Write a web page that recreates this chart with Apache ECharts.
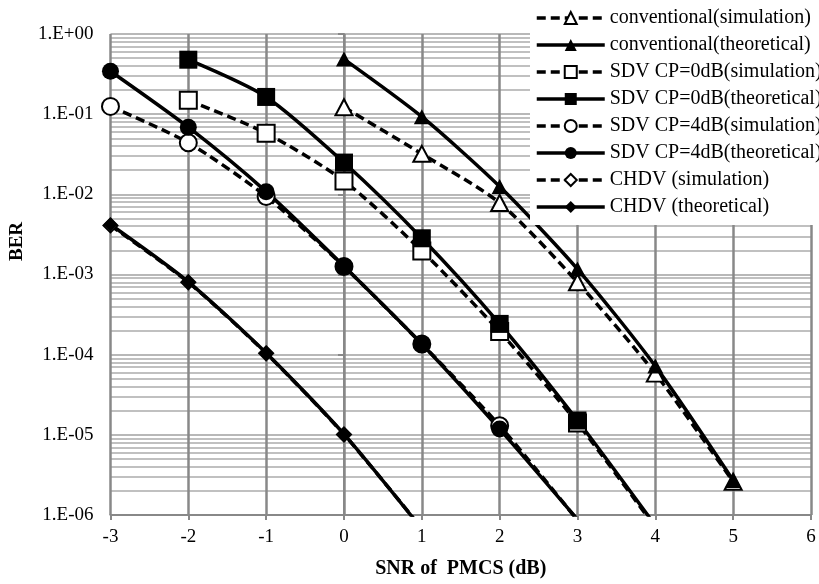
<!DOCTYPE html>
<html>
<head>
<meta charset="utf-8">
<script src="https://cdn.jsdelivr.net/npm/echarts@6/dist/echarts.min.js"></script>
<style>
html,body{margin:0;padding:0;background:#fff;}
#chart{width:819px;height:584px;}
</style>
</head>
<body>
<div id="chart"></div>
<script>
// ---- data ----
const snr = [-3, -2, -1, 0, 1, 2, 3, 4, 5];
const convSim   = [null, null, null, 0.122, 0.032, 0.0078, 8.0e-4, 5.8e-5, 2.6e-6];
const convTheo  = [null, null, null, 0.487, 0.093, 0.0125, 1.17e-3, 7.2e-5, 2.7e-6];
const sdv0Sim   = [null, 0.149, 0.058, 0.0147, 1.97e-3, 1.94e-4, 1.4e-5, 7.0e-7, null];
const sdv0Theo  = [null, 0.478, 0.164, 0.0249, 2.83e-3, 2.42e-4, 1.51e-5, 7.4e-7, null];
const sdv4Sim   = [0.125, 0.044, 9.4e-3, 1.26e-3, 1.36e-4, 1.3e-5, 8.6e-7, null, null];
const sdv4Theo  = [0.343, 0.0687, 0.0108, 1.27e-3, 1.36e-4, 1.18e-5, 8.8e-7, null, null];
const chdvSim   = [4.1e-3, 8.0e-4, 1.04e-4, 1.01e-5, 6.8e-7, null, null, null, null];
const chdvTheo  = [4.2e-3, 8.1e-4, 1.05e-4, 1.02e-5, 6.7e-7, null, null, null, null];
const seriesNames = [
  'conventional(simulation)', 'conventional(theoretical)',
  'SDV CP=0dB(simulation)', 'SDV CP=0dB(theoretical)',
  'SDV CP=4dB(simulation)', 'SDV CP=4dB(theoretical)',
  'CHDV (simulation)', 'CHDV (theoretical)'
];
const xTicks = { min: -3, max: 6, step: 1 };
const yRange = { min: 1e-6, max: 1 };

// ---- build ----
const FONT = 'Liberation Serif';
const LW = 3.5;
function pairs(arr) {
  const out = [];
  arr.forEach((v, i) => { if (v !== null) out.push([snr[i], v]); });
  return out;
}
function mk(name, arr, dashed, symbol, size, open) {
  return {
    name: name,
    type: 'line',
    data: pairs(arr),
    smooth: 0.25,
    clip: true,
    symbol: symbol,
    symbolSize: size,
    showAllSymbol: true,
    color: '#000',
    lineStyle: { color: '#000', width: LW, type: dashed ? [9, 5] : 'solid' },
    itemStyle: open
      ? { color: '#fff', borderColor: '#000', borderWidth: 2 }
      : { color: '#000', borderColor: '#000', borderWidth: 0 },
    emphasis: { disabled: true },
    z: 3
  };
}
const series = [
  mk(seriesNames[0], convSim, true, 'triangle', [17, 16], true),
  mk(seriesNames[1], convTheo, false, 'triangle', [16, 15], false),
  mk(seriesNames[2], sdv0Sim, true, 'rect', 17, true),
  mk(seriesNames[3], sdv0Theo, false, 'rect', 18, false),
  mk(seriesNames[4], sdv4Sim, true, 'circle', 17, true),
  mk(seriesNames[5], sdv4Theo, false, 'circle', 17, false),
  mk(seriesNames[6], chdvSim, true, 'diamond', 14, true),
  mk(seriesNames[7], chdvTheo, false, 'diamond', 14, false)
];

function fmtExp(v) {
  const e = Math.round(Math.log10(v));
  const a = Math.abs(e);
  return '1.E' + (e >= 0 ? '+' : '-') + (a < 10 ? '0' + a : '' + a);
}

const chart = echarts.init(document.getElementById('chart'), null, { renderer: 'canvas' });
chart.setOption({
  animation: false,
  backgroundColor: '#fff',
  textStyle: { fontFamily: FONT, color: '#000' },
  grid: { left: 103, right: 8, top: 34, bottom: 63, containLabel: false },
  legend: {
    data: seriesNames,
    orient: 'vertical',
    left: 530,
    top: 0,
    padding: [8, 2, 8, 5],
    backgroundColor: '#fff',
    itemWidth: 68,
    itemHeight: 15,
    itemGap: 7,
    lineStyle: { width: LW },
    textStyle: { fontFamily: FONT, fontSize: 20, color: '#000', lineHeight: 20 },
    selectedMode: false
  },
  xAxis: {
    type: 'value',
    min: xTicks.min,
    max: xTicks.max,
    interval: xTicks.step,
    name: 'SNR of  PMCS (dB)',
    nameLocation: 'middle',
    nameGap: 44,
    nameTextStyle: { fontFamily: FONT, fontSize: 20, fontWeight: 'bold', color: '#000' },
    axisLine: { show: true, onZero: false, lineStyle: { color: '#888', width: 2 } },
    axisTick: { show: true, inside: false, length: 5, lineStyle: { color: '#888', width: 2 } },
    axisLabel: { fontFamily: FONT, fontSize: 19, color: '#000', margin: 13 },
    splitLine: { show: true, lineStyle: { color: '#888', width: 2.5 } }
  },
  yAxis: {
    type: 'log',
    logBase: 10,
    min: yRange.min,
    max: yRange.max,
    splitNumber: 6,
    name: 'BER',
    nameLocation: 'middle',
    nameGap: 78,
    nameRotate: 90,
    nameTextStyle: { fontFamily: FONT, fontSize: 19, fontWeight: 'bold', color: '#000', padding: [0, 0, 0, 66] },
    axisLine: { show: true, lineStyle: { color: '#888', width: 2 } },
    axisTick: { show: true, inside: false, length: 6, lineStyle: { color: '#888', width: 2 } },
    axisLabel: { fontFamily: FONT, fontSize: 19, color: '#000', margin: 17, formatter: fmtExp },
    splitLine: { show: true, lineStyle: { color: '#b8b8b8', width: 2 } },
    minorTick: { show: false, splitNumber: 9 },
    minorSplitLine: { show: true, lineStyle: { color: '#c0c0c0', width: 2 } }
  },
  series: series
});
</script>
</body>
</html>
